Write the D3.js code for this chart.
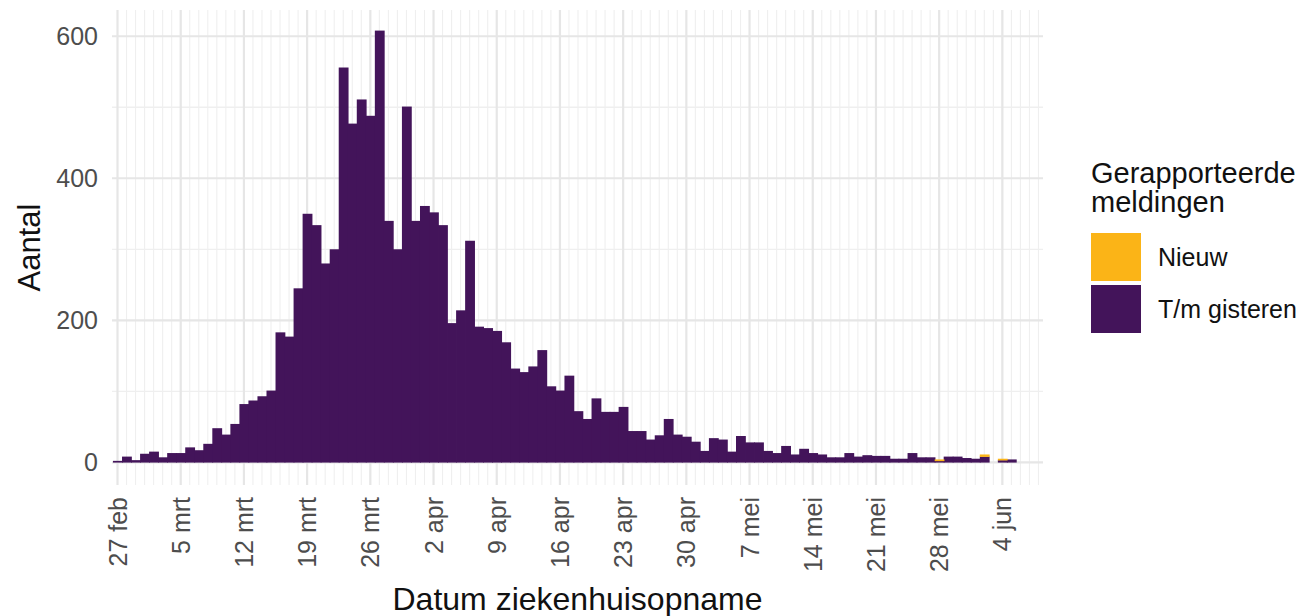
<!DOCTYPE html>
<html>
<head>
<meta charset="utf-8">
<script src="https://d3js.org/d3.v7.min.js"></script>
<style>
  body { margin: 0; background: #fff; }
  text { font-family: "Liberation Sans", Arial, sans-serif; }
</style>
</head>
<body>
<div id="chart"></div>
<script>
// first day of the series
var startDay = Date.UTC(2020, 1, 27);

// T/m gisteren (already reported), one value per day from 27 feb
var gisteren = [2, 8, 3, 12, 15, 7, 13, 13, 21, 17, 26, 48, 39, 54, 82, 87, 93, 101,
    183, 177, 245, 350, 334, 280, 300, 556, 477, 511, 488, 608, 340, 300, 501, 340,
    361, 352, 334, 196, 214, 312, 191, 189, 185, 169, 132, 127, 135, 158, 107, 101,
    122, 72, 61, 90, 71, 71, 78, 44, 44, 32, 38, 61, 39, 36, 29, 16, 34, 32, 15, 37,
    28, 28, 16, 13, 23, 11, 19, 13, 11, 7, 7, 13, 8, 10, 9, 9, 5, 5, 13, 7, 7, 2, 8,
    8, 6, 5, 8, 0, 3, 4];

// Nieuw (reported today)
var nieuw = [0, 0, 0, 0, 0, 0, 0, 0, 0, 0, 0, 0, 0, 0, 0, 0, 0, 0, 0, 0, 0, 0, 0, 0, 0,
    0, 0, 0, 0, 0, 0, 0, 0, 0, 0, 0, 0, 0, 0, 0, 0, 0, 0, 0, 0, 0, 0, 0, 0, 0, 0, 0, 0,
    0, 0, 0, 0, 0, 0, 0, 0, 0, 0, 0, 0, 0, 0, 0, 0, 0, 0, 0, 0, 0, 0, 0, 0, 0, 0, 0, 0,
    0, 0, 0, 0, 0, 0, 0, 0, 0, 0, 2, 0, 0, 0, 0, 3, 0, 2, 0];

var xTickLabels = ["27 feb", "5 mrt", "12 mrt", "19 mrt", "26 mrt", "2 apr", "9 apr",
    "16 apr", "23 apr", "30 apr", "7 mei", "14 mei", "21 mei", "28 mei", "4 jun"];
var yTicks = [0, 200, 400, 600];
var yMinor = [100, 300, 500];
var legendLabels = ["Nieuw", "T/m gisteren"];
var legendColors = ["#FBB417", "#43145A"];

var W = 1310, H = 616;
var dayMs = 864e5;
function day(n) { return new Date(startDay + n * dayMs); }

var rows = gisteren.map(function(v, i) {
    return { date: day(i), gisteren: v, nieuw: nieuw[i] };
});

var svg = d3.select("#chart").append("svg")
    .attr("width", W).attr("height", H)
    .style("background", "#fff");

var x = d3.scaleUtc()
    .domain([day(-0.61), day(102.5)])
    .range([112, 1043]);

var y = d3.scaleLinear()
    .domain([-32, 637])
    .range([485, 10]);

var grid = svg.append("g");

// minor (daily) vertical grid
grid.selectAll(".vmin")
    .data(d3.utcDay.range(day(0), day(103)))
    .enter().append("line")
    .attr("x1", function(d) { return x(d); })
    .attr("x2", function(d) { return x(d); })
    .attr("y1", 10).attr("y2", 485)
    .attr("stroke", "#EFEFEF").attr("stroke-width", 1.1);

// minor horizontal grid
grid.selectAll(".hmin")
    .data(yMinor)
    .enter().append("line")
    .attr("x1", 112).attr("x2", 1043)
    .attr("y1", function(d) { return y(d); })
    .attr("y2", function(d) { return y(d); })
    .attr("stroke", "#EFEFEF").attr("stroke-width", 1.3);

var weekTicks = xTickLabels.map(function(l, i) { return day(i * 7); });

grid.selectAll(".vmaj")
    .data(weekTicks)
    .enter().append("line")
    .attr("x1", function(d) { return x(d); })
    .attr("x2", function(d) { return x(d); })
    .attr("y1", 10).attr("y2", 485)
    .attr("stroke", "#E6E6E6").attr("stroke-width", 2.2);

grid.selectAll(".hmaj")
    .data(yTicks)
    .enter().append("line")
    .attr("x1", 112).attr("x2", 1043)
    .attr("y1", function(d) { return y(d); })
    .attr("y2", function(d) { return y(d); })
    .attr("stroke", "#E6E6E6").attr("stroke-width", 2.2);

// stacked bars
var stack = d3.stack().keys(["gisteren", "nieuw"]);
var series = stack(rows);
var fills = { gisteren: legendColors[1], nieuw: legendColors[0] };

svg.append("g").selectAll("g")
    .data(series)
    .enter().append("g")
    .attr("fill", function(s) { return fills[s.key]; })
    .selectAll("rect")
    .data(function(s) { return s.filter(function(d) { return d[1] > d[0]; }); })
    .enter().append("rect")
    .attr("x", function(d) { return x(new Date(+d.data.date - dayMs / 2)); })
    .attr("width", function(d) {
        // small overlap so no seams show between neighbouring bars
        return x(new Date(+d.data.date + dayMs / 2)) - x(new Date(+d.data.date - dayMs / 2)) + 0.8;
    })
    .attr("y", function(d) { return y(d[1]); })
    .attr("height", function(d) { return y(d[0]) - y(d[1]) + 0.3; });

// y axis labels
svg.append("g").selectAll("text")
    .data(yTicks)
    .enter().append("text")
    .attr("x", 98)
    .attr("y", function(d) { return y(d); })
    .attr("dy", "0.36em")
    .attr("text-anchor", "end")
    .attr("font-size", 25)
    .attr("fill", "#4D4D4D")
    .text(function(d) { return d; });

// x axis labels, rotated
svg.append("g").selectAll("text")
    .data(weekTicks)
    .enter().append("text")
    .attr("transform", function(d) { return "translate(" + x(d) + ",497) rotate(-90)"; })
    .attr("dy", "0.36em")
    .attr("text-anchor", "end")
    .attr("font-size", 25)
    .attr("fill", "#4D4D4D")
    .text(function(d, i) { return xTickLabels[i]; });

// axis titles
svg.append("text")
    .attr("transform", "translate(40,247.5) rotate(-90)")
    .attr("text-anchor", "middle")
    .attr("font-size", 31)
    .attr("fill", "#111")
    .text("Aantal");

svg.append("text")
    .attr("x", 577.5).attr("y", 610)
    .attr("text-anchor", "middle")
    .attr("font-size", 32)
    .attr("fill", "#111")
    .text("Datum ziekenhuisopname");

// legend
var leg = svg.append("g");
leg.append("text").attr("x", 1091).attr("y", 183).attr("font-size", 29).attr("fill", "#111")
    .text("Gerapporteerde");
leg.append("text").attr("x", 1091).attr("y", 212).attr("font-size", 29).attr("fill", "#111")
    .text("meldingen");

var items = leg.selectAll(".item")
    .data(legendLabels)
    .enter().append("g")
    .attr("transform", function(d, i) { return "translate(1091," + (233 + i * 52) + ")"; });

items.append("rect")
    .attr("width", 50).attr("height", 48)
    .attr("fill", function(d, i) { return legendColors[i]; });

items.append("text")
    .attr("x", 67).attr("y", 24)
    .attr("dy", "0.36em")
    .attr("font-size", 25)
    .attr("fill", "#111")
    .text(function(d) { return d; });
</script>
</body>
</html>
